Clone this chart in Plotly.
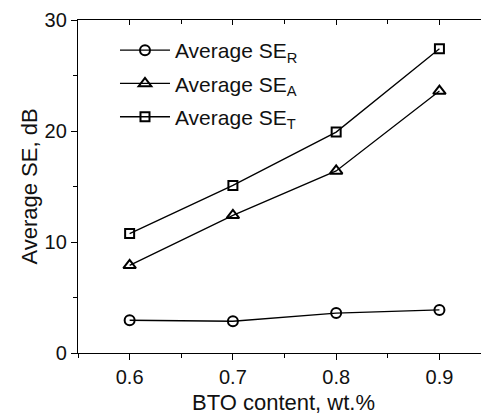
import plotly.graph_objects as go

bto = [0.6, 0.7, 0.8, 0.9]
se_r = [2.95, 2.86, 3.6, 3.88]
se_a = [7.9, 12.4, 16.4, 23.6]
se_t = [10.76, 15.1, 19.9, 27.4]
names = ["Average SE<sub>R</sub>", "Average SE<sub>A</sub>", "Average SE<sub>T</sub>"]
symbols = ["circle-open", "triangle-up-open", "square-open"]
sizes = [10, 11, 9]

FONT = "Arial, Liberation Sans, sans-serif"
fig = go.Figure()
for i, (vals, nm, sym, sz) in enumerate(zip([se_r, se_a, se_t], names, symbols, sizes)):
    fig.add_trace(go.Scatter(
        x=bto, y=vals, name=nm, mode="lines+markers", legendgroup=f"g{i}",
        line=dict(color="black", width=1.3),
        marker=dict(symbol=sym, size=sz, color="black", line=dict(width=2, color="black")),
    ))
fig.add_trace(go.Scatter(x=[], y=[], xaxis="x2", yaxis="y2", showlegend=False, hoverinfo="skip"))

xr = [0.55, 0.948]
yr = [0, 30]
fig.update_layout(
    width=481, height=411,
    margin=dict(l=70, r=0, t=12, b=66),
    paper_bgcolor="white", plot_bgcolor="white",
    font=dict(family=FONT, size=20, color="#111"),
    showlegend=True,
    legend=dict(x=0.09, y=0.97, xanchor="left", yanchor="top",
                bgcolor="rgba(0,0,0,0)", font=dict(size=21, family=FONT),
                itemwidth=50, tracegroupgap=3),
    xaxis=dict(range=xr, tickvals=bto, ticktext=["0.6", "0.7", "0.8", "0.9"],
               ticks="outside", ticklen=6, tickwidth=1, tickcolor="black",
               showline=True, linecolor="black", linewidth=1.3,
               showgrid=False, zeroline=False, automargin=False,
               minor=dict(dtick=0.05, tick0=0.55, ticks="outside", ticklen=4, tickcolor="black"),
               title=dict(text="BTO content, wt.%", font=dict(size=22), standoff=7),
               tickfont=dict(size=20)),
    yaxis=dict(range=yr, tickvals=[0, 10, 20, 30],
               ticks="outside", ticklen=6, tickwidth=1, tickcolor="black",
               showline=True, linecolor="black", linewidth=1.3,
               showgrid=False, zeroline=False, automargin=False,
               minor=dict(dtick=5, tick0=0, ticks="outside", ticklen=4, tickcolor="black"),
               title=dict(text="Average SE, dB", font=dict(size=22), standoff=0),
               tickfont=dict(size=20)),
    xaxis2=dict(range=xr, overlaying="x", side="top", tickvals=bto, automargin=False,
                showticklabels=False, ticks="inside", ticklen=5, tickcolor="black",
                showline=True, linecolor="black", linewidth=1.3, showgrid=False, zeroline=False,
                minor=dict(dtick=0.05, tick0=0.55, ticks="inside", ticklen=4, tickcolor="black")),
    yaxis2=dict(range=yr, overlaying="y", side="right", tickvals=[0, 10, 20, 30], automargin=False,
                showticklabels=False, ticks="inside", ticklen=5, tickcolor="black",
                showline=False, showgrid=False, zeroline=False,
                minor=dict(dtick=5, tick0=0, ticks="inside", ticklen=4, tickcolor="black")),
)
fig.write_html("out.html")
